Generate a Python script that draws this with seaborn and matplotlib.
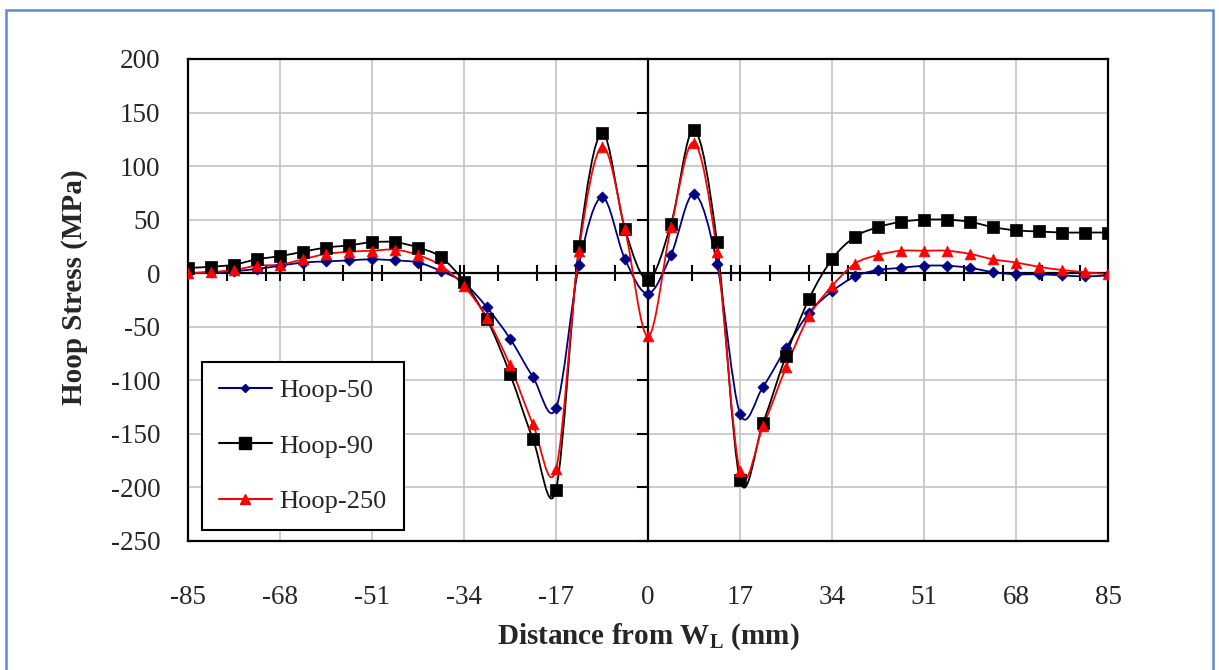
import numpy as np
import pandas as pd
import matplotlib
matplotlib.use("Agg")
import matplotlib.pyplot as plt
import seaborn as sns
from matplotlib.path import Path
from matplotlib.patches import PathPatch, Rectangle
from matplotlib.lines import Line2D

# ---------------- data ----------------
distance = [-85, -80.75, -76.5, -72.25, -68, -63.75, -59.5, -55.25, -51, -46.75,
            -42.5, -38.25, -34, -29.75, -25.5, -21.25, -17, -12.75, -8.5, -4.25,
            0, 4.25, 8.5, 12.75, 17, 21.25, 25.5, 29.75, 34, 38.25,
            42.5, 46.75, 51, 55.25, 59.5, 63.75, 68, 72.25, 76.5, 80.75, 85]

hoop_50 = [0, 1, 2, 4, 7, 10, 11, 12, 13, 12,
           10, 2, -9, -32, -61, -97, -126, 8, 71, 13,
           -19, 17, 74, 9, -131, -106, -70, -37, -17, -3,
           3, 5, 7, 7, 5, 1, -1, -1, -2, -3, -2]

hoop_90 = [5, 6, 8, 13, 16, 20, 24, 26, 29, 29,
           24, 15, -8, -43, -94, -155, -202, 25, 131, 41,
           -6, 46, 134, 29, -193, -140, -77, -24, 13, 34,
           43, 48, 50, 50, 48, 43, 40, 39, 38, 38, 38]

hoop_250 = [0, 1, 3, 7, 8, 13, 18, 20, 21, 22,
            17, 7, -12, -42, -86, -141, -183, 21, 118, 41,
            -59, 43, 122, 20, -185, -143, -88, -40, -12, 9,
            17, 21, 21, 21, 18, 13, 10, 6, 3, 1, -1]

series_names = ["Hoop-50", "Hoop-90", "Hoop-250"]
x_ticks = [-85, -68, -51, -34, -17, 0, 17, 34, 51, 68, 85]
y_ticks = [-250, -200, -150, -100, -50, 0, 50, 100, 150, 200]

# ---------------- style ----------------
sns.set_theme(style="white")
plt.rcParams["font.family"] = ["Liberation Serif", "DejaVu Serif"]
plt.rcParams["mathtext.fontset"] = "custom"
plt.rcParams["mathtext.rm"] = "Liberation Serif"
plt.rcParams["mathtext.bf"] = "Liberation Serif:bold"

colors = {"Hoop-50": "#000080", "Hoop-90": "#000000", "Hoop-250": "#FF0000"}
markers = {"Hoop-50": "D", "Hoop-90": "s", "Hoop-250": "^"}
msize = {"Hoop-50": 32, "Hoop-90": 80, "Hoop-250": 60}

df = pd.DataFrame({
    "x": distance * 3,
    "y": hoop_50 + hoop_90 + hoop_250,
    "series": [series_names[0]] * len(distance) + [series_names[1]] * len(distance)
              + [series_names[2]] * len(distance),
})

W, H = 1219, 670
fig = plt.figure(figsize=(W / 100, H / 100), dpi=100)

# outer frame
fig.patches.append(Rectangle((6 / W, -0.1), (1213 - 6) / W, 1.1 - 10 / H,
                             transform=fig.transFigure, fill=False,
                             edgecolor="#5B8BD0", linewidth=1.8))

pos = [188 / W, 1 - 541 / H, (1108 - 188) / W, (541 - 59) / H]
ax = fig.add_axes(pos)
ax.set_xlim(-85, 85)
ax.set_ylim(-250, 200)
ax.set_xticks(x_ticks)
ax.set_yticks(y_ticks)
ax.set_xticklabels([str(v) for v in x_ticks])
ax.set_yticklabels([str(v) for v in y_ticks])
ax.tick_params(axis="x", length=0, pad=32, labelsize=19.5)
ax.tick_params(axis="y", length=0, pad=20, labelsize=19.5)
ax.grid(True, color="#C8C8C8", linewidth=1.3)
for s in ax.spines.values():
    s.set_visible(True)
    s.set_color("black")
    s.set_linewidth(1.6)

# overlay axes with axes crossing at zero
axo = fig.add_axes(pos, facecolor="none")
axo.set_xlim(-85, 85)
axo.set_ylim(-250, 200)
for side in ["top", "right"]:
    axo.spines[side].set_visible(False)
axo.spines["bottom"].set_position(("data", 0))
axo.spines["left"].set_position(("data", 0))
axo.spines["bottom"].set_linewidth(1.6)
axo.spines["left"].set_linewidth(1.6)
axo.spines["bottom"].set_color("black")
axo.spines["left"].set_color("black")
axo.set_xticks([-68, -51, -34, -17, 17, 34, 51, 68])
axo.set_xticks([-85 + k * 7.17 for k in range(1, 24)], minor=True)
axo.set_yticks([v for v in y_ticks if v != 0])
axo.tick_params(axis="x", which="both", direction="inout", length=12, width=1.5,
                labelbottom=False, color="black", bottom=True)
axo.tick_params(axis="y", which="both", direction="out", length=8, width=1.5,
                labelleft=False, color="black", left=True)


def smooth_path(xs, ys):
    xs = np.asarray(xs, float)
    ys = np.asarray(ys, float)
    P = np.column_stack([xs, ys])
    n = len(P)
    verts = [P[0]]
    codes = [Path.MOVETO]
    for i in range(n - 1):
        p0 = P[i - 1] if i > 0 else P[i]
        p1 = P[i]
        p2 = P[i + 1]
        p3 = P[i + 2] if i + 2 < n else P[i + 1]
        c1 = p1 + (p2 - p0) / 6.0
        c2 = p2 - (p3 - p1) / 6.0
        verts += [c1, c2, p2]
        codes += [Path.CURVE4] * 3
    return Path(verts, codes)


for name in series_names:
    sub = df[df["series"] == name]
    axo.add_patch(PathPatch(smooth_path(sub["x"], sub["y"]), facecolor="none",
                            edgecolor=colors[name], linewidth=1.3, zorder=3))
    sns.scatterplot(data=sub, x="x", y="y", ax=axo, marker=markers[name],
                    s=msize[name], color=colors[name], edgecolor=colors[name],
                    linewidth=0.5, legend=False, zorder=4)
axo.set_xlabel("")
axo.set_ylabel("")
axo.set_xlim(-85, 85)
axo.set_ylim(-250, 200)

handles = [Line2D([], [], color=colors[n], marker=markers[n], linewidth=1.5,
                  markersize={"Hoop-50": 4.5, "Hoop-90": 8, "Hoop-250": 6.5}[n])
           for n in series_names]
leg = axo.legend(handles, series_names, loc="lower left", bbox_to_anchor=(0.015, 0.023),
                 borderaxespad=0, fancybox=False, framealpha=1, edgecolor="black",
                 fontsize=19, handlelength=2.0, handletextpad=0.3, labelspacing=1.2,
                 borderpad=0.65)
leg.get_frame().set_linewidth(1.5)

fig.text(75 / W, 1 - 287 / H, "Hoop Stress (MPa)", rotation=90, ha="center",
         va="center", fontsize=21, fontweight="bold")
fig.text(648 / W, 1 - 637 / H, r"Distance from W$_{\mathbf{L}}$ (mm)", ha="center",
         va="center", fontsize=21, fontweight="bold")

fig.savefig("out.png", dpi=100)
